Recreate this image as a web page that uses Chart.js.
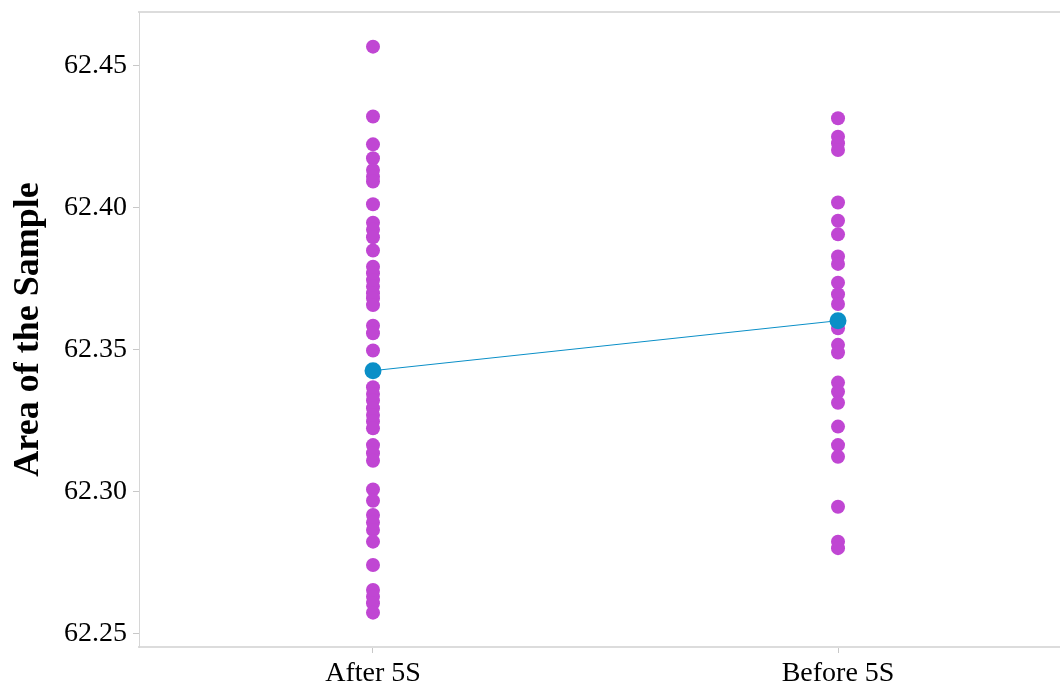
<!DOCTYPE html>
<html>
<head>
<meta charset="utf-8">
<script src="https://cdn.jsdelivr.net/npm/chart.js@4.4.1/dist/chart.umd.min.js"></script>
<style>
  body { margin: 0; background: #fff; }
  canvas { display: block; }
</style>
</head>
<body>
<canvas id="grafica" width="1060" height="687"></canvas>
<script>
// categorias y valores
const categorias = ["After 5S", "Before 5S"];

const valoresAfter = [
  62.4568, 62.4322, 62.4224, 62.4175, 62.4134, 62.4110, 62.4093, 62.4013,
  62.3948, 62.3923, 62.3897, 62.3850, 62.3793, 62.3770, 62.3746, 62.3723,
  62.3700, 62.3682, 62.3658, 62.3585, 62.3559, 62.3498, 62.3369, 62.3345,
  62.3322, 62.3295, 62.3271, 62.3248, 62.3224, 62.3165, 62.3136, 62.3110,
  62.3009, 62.2969, 62.2919, 62.2892, 62.2866, 62.2825, 62.2743, 62.2655,
  62.2631, 62.2608, 62.2575
];

const valoresBefore = [
  62.4316, 62.4251, 62.4228, 62.4204, 62.4019, 62.3955, 62.3907, 62.3829,
  62.3803, 62.3737, 62.3696, 62.3662, 62.3576, 62.3518, 62.3491, 62.3385,
  62.3353, 62.3314, 62.3230, 62.3165, 62.3124, 62.2948, 62.2825, 62.2802
];

const medias = [62.3427, 62.3603];

const ticksY = [62.25, 62.30, 62.35, 62.40, 62.45];

const fuente = "'Liberation Serif', 'Times New Roman', serif";

function puntos(valores, pos) {
  return valores.map((v) => ({ x: pos, y: v }));
}

// quitar el relleno que Chart.js agrega por las etiquetas
function sinRelleno(scale) {
  scale.paddingTop = 0;
  scale.paddingBottom = 0;
  scale.paddingLeft = 0;
  scale.paddingRight = 0;
}

let ctx = document.getElementById("grafica").getContext("2d");
let grafica = new Chart(ctx, {
  type: "scatter",
  data: {
    datasets: [
      {
        label: "Media",
        type: "line",
        data: medias.map((v, i) => ({ x: i + 1, y: v })),
        borderColor: "#0a8fc7",
        borderWidth: 1,
        backgroundColor: "#0a8fc7",
        pointRadius: 8.5,
        pointBorderWidth: 0,
        fill: false,
        tension: 0,
        order: 0,
      },
      {
        label: categorias[0],
        data: puntos(valoresAfter, 1),
        backgroundColor: "#c046d3",
        pointRadius: 7,
        pointBorderWidth: 0,
        order: 1,
      },
      {
        label: categorias[1],
        data: puntos(valoresBefore, 2),
        backgroundColor: "#c046d3",
        pointRadius: 7,
        pointBorderWidth: 0,
        order: 1,
      },
    ],
  },
  options: {
    responsive: false,
    animation: false,
    layout: { autoPadding: false, padding: { top: 12, right: 0, left: 0, bottom: 0 } },
    plugins: {
      legend: { display: false },
      tooltip: { enabled: false },
    },
    scales: {
      x: {
        type: "linear",
        min: 0.4968,
        max: 2.4774,
        afterBuildTicks: (scale) => {
          scale.ticks = categorias.map((c, i) => ({ value: i + 1 }));
        },
        afterFit: (scale) => {
          scale.height = 40;
          sinRelleno(scale);
        },
        grid: {
          drawOnChartArea: false,
          tickLength: 6,
          color: "#c8c8c8",
        },
        border: { color: "#dcdcdc", width: 2 },
        ticks: {
          color: "#000",
          padding: 4,
          font: { family: fuente, size: 28 },
          callback: (v) => categorias[v - 1],
        },
      },
      xTop: {
        type: "linear",
        position: "top",
        min: 0.4968,
        max: 2.4774,
        afterFit: (scale) => {
          scale.height = 0;
          sinRelleno(scale);
        },
        grid: { display: false },
        border: { color: "#dcdcdc", width: 2 },
        ticks: { display: false },
      },
      y: {
        min: 62.2454,
        max: 62.469,
        afterBuildTicks: (scale) => {
          scale.ticks = ticksY.map((v) => ({ value: v }));
        },
        afterFit: (scale) => {
          scale.width = 139;
          sinRelleno(scale);
        },
        grid: {
          drawOnChartArea: false,
          tickLength: 6,
          color: "#c8c8c8",
        },
        border: { color: "#d6d6d6", width: 1 },
        ticks: {
          color: "#000",
          padding: 6,
          font: { family: fuente, size: 28 },
          callback: (v) => v.toFixed(2),
        },
        title: {
          display: true,
          text: "Area of the Sample",
          color: "#000",
          padding: { top: 7, bottom: 0 },
          font: { family: fuente, size: 36, weight: "bold" },
        },
      },
    },
  },
});
</script>
</body>
</html>
